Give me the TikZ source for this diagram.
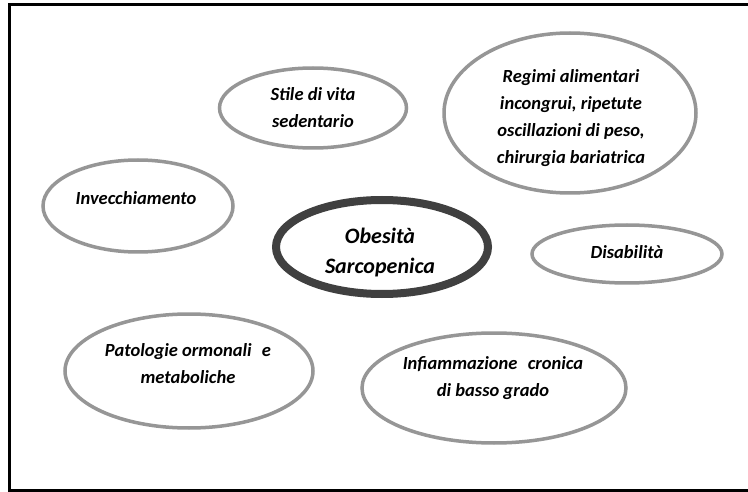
\documentclass[tikz,border=0pt]{standalone}
\usepackage{fontspec}
\setmainfont{Carlito}
\usetikzlibrary{shapes.geometric}
\definecolor{ringgray}{RGB}{150,150,150}
\definecolor{coredark}{RGB}{64,64,64}
\tikzset{
  blob/.style={ellipse, draw=ringgray, line width=3.5pt, fill=white, inner sep=0pt},
  core/.style={ellipse, draw=coredark, line width=8pt, fill=white, inner sep=0pt},
  txt/.style={align=center, font=\fontsize{18.5}{27}\selectfont\bfseries\itshape},
  coretxt/.style={align=center, font=\fontsize{22}{30}\selectfont\bfseries\itshape},
}
\begin{document}
\begin{tikzpicture}[x=1pt,y=-1pt]
\useasboundingbox (0,0) rectangle (748,492);
\fill[white] (0,0) rectangle (748,492);
\draw[line width=3pt, black] (9,5) rectangle (760,490);
% ellipses
\node[blob, minimum width=187pt, minimum height=80pt] (stile) at (313,108) {};
\node[blob, minimum width=252pt, minimum height=160pt] (regimi) at (570,113) {};
\node[blob, minimum width=190pt, minimum height=92pt] (inv) at (138,206) {};
\node[core, minimum width=212pt, minimum height=94pt] (obes) at (382,247) {};
\node[blob, minimum width=190pt, minimum height=58pt] (dis) at (627,254) {};
\node[blob, minimum width=248pt, minimum height=114pt] (pat) at (189,371) {};
\node[blob, minimum width=264pt, minimum height=110pt] (inf) at (494,388) {};
% texts
\node[txt] (stileT) at (313,108) {Stile di vita\\sedentario};
\node[txt] (regimiT) at (571,118) {Regimi alimentari\\incongrui, ripetute\\oscillazioni di peso,\\chirurgia bariatrica};
\node[txt] (invT) at (136,198) {Invecchiamento};
\node[coretxt] (obesT) at (380,253) {Obesità\\Sarcopenica};
\node[txt] (disT) at (627,252) {Disabilità};
\node[txt] (patT) at (188,364) {Patologie ormonali\,\, e\\metaboliche};
\node[txt] (infT) at (493,378) {Infiammazione\,\, cronica\\di basso grado};
\end{tikzpicture}
\end{document}
